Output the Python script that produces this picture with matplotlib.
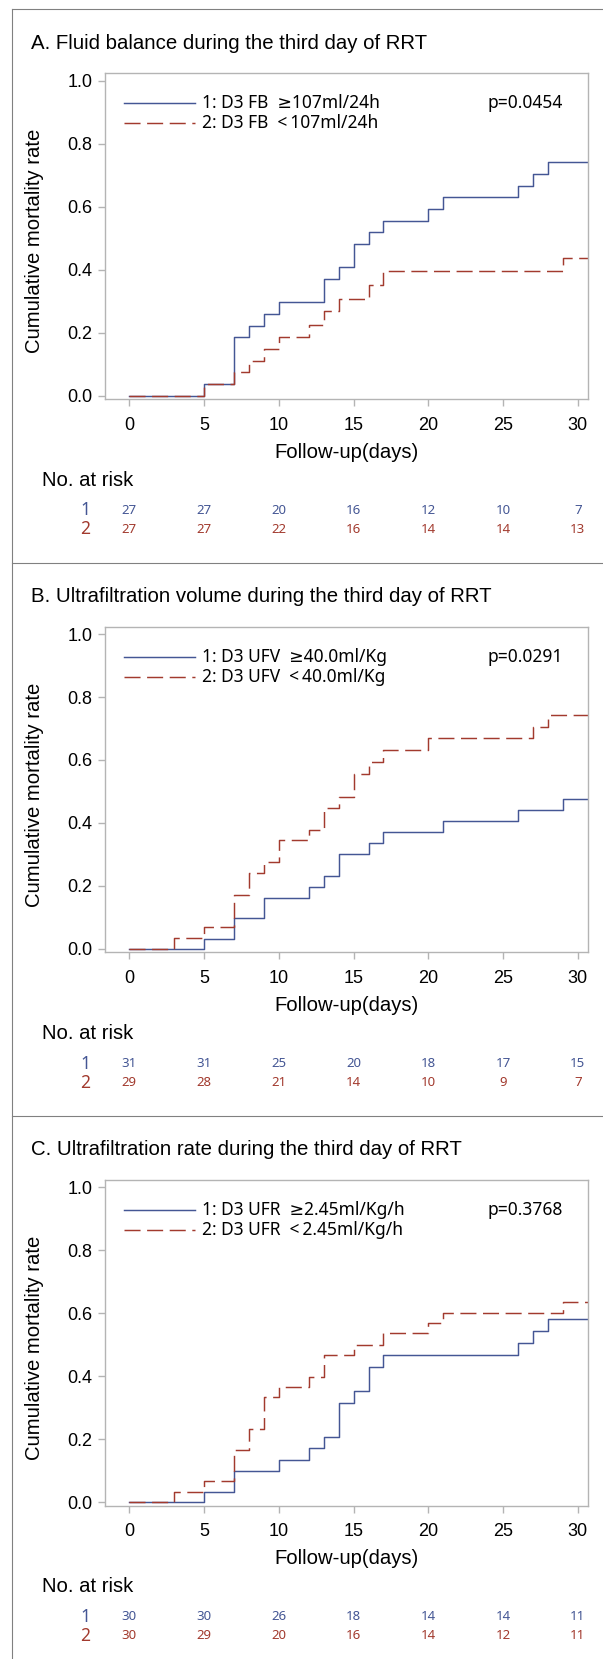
import matplotlib
matplotlib.use('Agg')
import matplotlib.pyplot as plt
import matplotlib.transforms as mtransforms
from matplotlib.lines import Line2D

W, H = 603, 1659
blue = '#445694'
red = '#A23A2E'
grey = '#B4B4B4'
sans = 'Liberation Sans'
legfont = ['Noto Sans', 'DejaVu Sans']

titles = ['A. Fluid balance during the third day of RRT',
          'B. Ultrafiltration volume during the third day of RRT',
          'C. Ultrafiltration rate during the third day of RRT']
legend1 = ['1: D3 FB  \u2265107ml/24h', '1: D3 UFV  \u226540.0ml/Kg', '1: D3 UFR  \u22652.45ml/Kg/h']
legend2 = ['2: D3 FB  <\u2009107ml/24h', '2: D3 UFV  <\u200940.0ml/Kg', '2: D3 UFR  <\u20092.45ml/Kg/h']
pvalues = ['p=0.0454', 'p=0.0291', 'p=0.3768']

# cumulative mortality, step after each event day
a_t1 = [0, 5, 7, 8, 9, 10, 13, 14, 15, 16, 17, 20, 21, 26, 27, 28]
a_f1 = [0, 0.037, 0.185, 0.222, 0.259, 0.296, 0.370, 0.407, 0.481, 0.519, 0.556,
        0.593, 0.630, 0.667, 0.704, 0.741]
a_t2 = [0, 5, 7, 8, 9, 10, 12, 13, 14, 16, 17, 29]
a_f2 = [0, 0.037, 0.074, 0.110, 0.147, 0.185, 0.224, 0.270, 0.308, 0.350, 0.395, 0.437]

b_t1 = [0, 5, 7, 9, 12, 13, 14, 16, 17, 21, 26, 29]
b_f1 = [0, 0.032, 0.097, 0.161, 0.197, 0.231, 0.302, 0.338, 0.372, 0.407, 0.442, 0.476]
b_t2 = [0, 3, 5, 7, 8, 9, 10, 12, 13, 14, 15, 16, 17, 20, 27, 28]
b_f2 = [0, 0.034, 0.069, 0.172, 0.241, 0.276, 0.345, 0.379, 0.448, 0.481, 0.556,
        0.593, 0.632, 0.669, 0.704, 0.743]

c_t1 = [0, 5, 7, 10, 12, 13, 14, 15, 16, 17, 26, 27, 28]
c_f1 = [0, 0.033, 0.100, 0.133, 0.172, 0.208, 0.315, 0.352, 0.431, 0.468, 0.507, 0.544, 0.581]
c_t2 = [0, 3, 5, 7, 8, 9, 10, 12, 13, 15, 17, 20, 21, 29]
c_f2 = [0, 0.033, 0.067, 0.166, 0.233, 0.333, 0.367, 0.399, 0.468, 0.500, 0.537,
        0.568, 0.601, 0.635]

end_day = 31

risk_days = [0, 5, 10, 15, 20, 25, 30]
a_risk1 = [27, 27, 20, 16, 12, 10, 7]
a_risk2 = [27, 27, 22, 16, 14, 14, 13]
b_risk1 = [31, 31, 25, 20, 18, 17, 15]
b_risk2 = [29, 28, 21, 14, 10, 9, 7]
c_risk1 = [30, 30, 26, 18, 14, 14, 11]
c_risk2 = [30, 29, 20, 16, 14, 12, 11]

curves = [(a_t1, a_f1, a_t2, a_f2), (b_t1, b_f1, b_t2, b_f2), (c_t1, c_f1, c_t2, c_f2)]
risks = [(a_risk1, a_risk2), (b_risk1, b_risk2), (c_risk1, c_risk2)]

fig = plt.figure(figsize=(W / 100, H / 100), dpi=100)


def fx(px):
    return px / W


def fy(py):
    return 1 - py / H


panel_top0 = 9.3
panel_step = 553.3
ax_left, ax_right = 105, 588.3

# panel frame
fig.add_artist(Line2D([fx(11.7), fx(11.7)], [fy(panel_top0), 0], color='#808080', lw=0.8))
for i in range(3):
    T = panel_top0 + panel_step * i
    fig.add_artist(Line2D([fx(11.7), 1], [fy(T), fy(T)], color='#808080', lw=0.8))

for i in range(3):
    T = panel_top0 + panel_step * i
    t1, f1, t2, f2 = curves[i]
    r1, r2 = risks[i]

    fig.text(fx(31), fy(T + 34), titles[i], fontsize=14.7, family=sans, va='center', ha='left')

    ax = fig.add_axes([fx(ax_left), fy(T + 389.7), (ax_right - ax_left) / W, 325.7 / H])
    ax.step(t1 + [end_day], f1 + [f1[-1]], where='post', color=blue, lw=1.05)
    ax.step(t2 + [end_day], f2 + [f2[-1]], where='post', color=red, lw=1.05,
            linestyle=(0, (11, 4.5)))
    ax.set_xlim(-1.625, 30.70)
    ax.set_ylim(-0.0105, 1.0235)
    ax.set_xticks(risk_days)
    ax.set_yticks([0, 0.2, 0.4, 0.6, 0.8, 1.0])
    ax.set_yticklabels(['0.0', '0.2', '0.4', '0.6', '0.8', '1.0'])
    for s in ax.spines.values():
        s.set_color(grey)
        s.set_linewidth(1.0)
    ax.tick_params(direction='out', length=4.7, width=1.0, color=grey, labelsize=13, pad=4.5)
    ax.tick_params(axis='x', pad=8)
    for lab in ax.get_xticklabels() + ax.get_yticklabels():
        lab.set_family(sans)

    # legend
    ax_h = 325.7
    def ay(py):
        return (T + 389.7 - py) / ax_h
    def axx(px):
        return (px - ax_left) / (ax_right - ax_left)
    ax.plot([axx(124), axx(195)], [ay(T + 94), ay(T + 94)], transform=ax.transAxes,
            color=blue, lw=1.05)
    ax.plot([axx(124), axx(195)], [ay(T + 114), ay(T + 114)], transform=ax.transAxes,
            color=red, lw=1.05, linestyle=(0, (11, 4.5)))
    ax.text(axx(202), ay(T + 94), legend1[i], transform=ax.transAxes, fontsize=12.5,
            family=legfont, va='center', ha='left')
    ax.text(axx(202), ay(T + 114), legend2[i], transform=ax.transAxes, fontsize=12.5,
            family=legfont, va='center', ha='left')
    ax.text(axx(563), ay(T + 94), pvalues[i], transform=ax.transAxes, fontsize=12.5,
            family=legfont, va='center', ha='right')

    fig.text(fx(346.5), fy(T + 443), 'Follow-up(days)', fontsize=14.6, family=sans,
             ha='center', va='center')
    fig.text(fx(35), fy(T + 232), 'Cumulative mortality rate', fontsize=14.6, family=sans,
             ha='center', va='center', rotation=90)
    fig.text(fx(41.7), fy(T + 471), 'No. at risk', fontsize=14.6, family=sans,
             ha='left', va='center')

    blend = mtransforms.blended_transform_factory(ax.transData, fig.transFigure)
    fig.text(fx(90), fy(T + 501), '1', fontsize=12.5, family=legfont, color=blue,
             ha='right', va='center')
    fig.text(fx(90), fy(T + 520), '2', fontsize=12.5, family=legfont, color=red,
             ha='right', va='center')
    for d, n1, n2 in zip(risk_days, r1, r2):
        ax.text(d, fy(T + 501), str(n1), transform=blend, fontsize=9.5, family=legfont,
                color=blue, ha='center', va='center', clip_on=False)
        ax.text(d, fy(T + 520), str(n2), transform=blend, fontsize=9.5, family=legfont,
                color=red, ha='center', va='center', clip_on=False)

fig.savefig('out.png', dpi=100)
